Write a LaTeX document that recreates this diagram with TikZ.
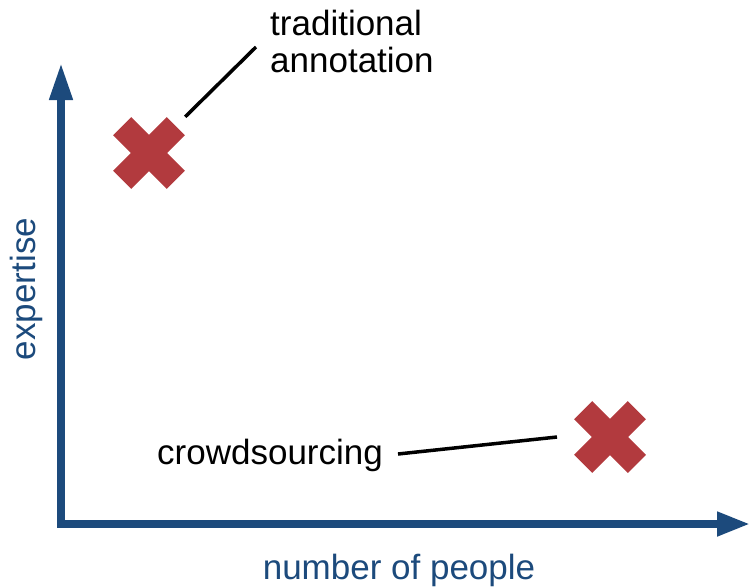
\documentclass[tikz,border=0pt]{standalone}
\usepackage{fontspec}
\setmainfont{Liberation Sans}
\usetikzlibrary{arrows.meta,calc}

\definecolor{axisblue}{RGB}{28,74,124}
\definecolor{crossred}{RGB}{178,58,62}

\tikzset{
  axisline/.style={draw=axisblue, line width=7.5pt, line join=miter,
    {Triangle[length=37pt,width=22pt]}-{Triangle[length=33pt,width=23pt]}},
  axislabel/.style={text=axisblue, inner sep=0pt, font=\fontsize{35}{37}\selectfont},
  callout/.style={text=black, inner sep=0pt, font=\fontsize{35}{37}\selectfont},
  leader/.style={draw=black, line width=3.5pt},
  xspot/.style={inner sep=0pt, minimum size=72pt},
}

% draws a thick X centred on a node
\newcommand{\bigcross}[1]{%
  \fill[crossred, rotate around={45:(#1.center)}]
    ($(#1.center)+(-38pt,-12.75pt)$) rectangle ($(#1.center)+(38pt,12.75pt)$);
  \fill[crossred, rotate around={-45:(#1.center)}]
    ($(#1.center)+(-38pt,-12.75pt)$) rectangle ($(#1.center)+(38pt,12.75pt)$);
}

\begin{document}
\begin{tikzpicture}[x=1pt, y=-1pt]
  \useasboundingbox (0,0) rectangle (749,587);

  % axes
  \coordinate (ytip) at (61,63);
  \coordinate (origin) at (61,524);
  \coordinate (xtip) at (750,524);
  \draw[axisline] (ytip) -- (origin) -- (xtip);

  \node[axislabel, anchor=base] (xlab) at (399,579) {number of people};
  \node[axislabel, anchor=base, rotate=90] (ylab) at (35,289) {expertise};

  % data points
  \node[xspot] (c1) at (149,153) {};
  \node[xspot] (c2) at (610,437) {};
  \bigcross{c1}
  \bigcross{c2}

  % labels
  \node[callout, anchor=north west, align=left] (trad) at (270,10) {traditional\\annotation};
  \node[callout, anchor=base west] (crowd) at (157,464) {crowdsourcing};

  % leader lines
  \coordinate (tradend) at (256,47);
  \coordinate (crowdend) at (398,454);
  \coordinate (c2end) at (557,437);
  \draw[leader] (c1.north east) -- (tradend);
  \draw[leader] (crowdend) -- (c2end);
\end{tikzpicture}
\end{document}
